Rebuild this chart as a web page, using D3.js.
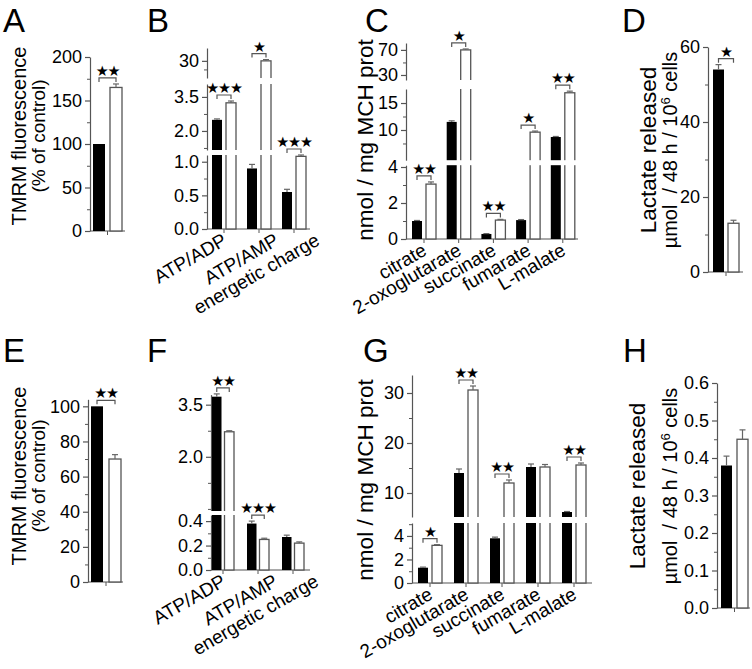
<!DOCTYPE html>
<html><head><meta charset="utf-8">
<script src="https://cdn.jsdelivr.net/npm/d3@7"></script>
<style>
body{margin:0;background:#fff}
text{font-family:"Liberation Sans",Arial,Helvetica,sans-serif;fill:#000}
</style>
</head><body>
<svg id="c" width="752" height="669" xmlns="http://www.w3.org/2000/svg"></svg>
<script>
// ---------------- DATA ----------------
// A: TMRM fluorescence (% of control), up
const tmrmUp = [100, 165];
const tmrmUpErr = [0, 4];
const tmrmUpSig = ["**"];
// B: energy ratios, up
const energyCats = ["ATP/ADP", "ATP/AMP", "energetic charge"];
const energyUpCtrl = [2.49, 0.9, 0.55];
const energyUpCtrlErr = [0.04, 0.06, 0.04];
const energyUpTreat = [3.24, 30, 1.08];
const energyUpTreatErr = [0.08, 0.15, 0.02];
const energyUpSig = ["***", "*", "***"];
// C: metabolites, up
const metabCats = ["citrate", "2-oxoglutarate", "succinate", "fumarate", "L-malate"];
const metabUpCtrl = [1.0, 11.5, 0.28, 1.05, 8.7];
const metabUpCtrlErr = [0.03, 0.2, 0.02, 0.03, 0.1];
const metabUpTreat = [3.05, 70, 1.05, 9.6, 16.9];
const metabUpTreatErr = [0.12, 1.5, 0.04, 0.2, 0.3];
const metabUpSig = ["**", "*", "**", "*", "**"];
// D: lactate released, up
const lactateUp = [54, 13];
const lactateUpErr = [1.3, 0.8];
const lactateUpSig = ["*"];
// E: TMRM, down
const tmrmDown = [100, 70];
const tmrmDownErr = [0, 2.5];
const tmrmDownSig = ["**"];
// F: energy ratios, down
const energyDownCtrl = [3.73, 0.38, 0.27];
const energyDownCtrlErr = [0.08, 0.02, 0.015];
const energyDownTreat = [2.72, 0.25, 0.22];
const energyDownTreatErr = [0.03, 0.01, 0.01];
const energyDownSig = ["**", "***", ""];
// G: metabolites, down
const metabDownCtrl = [1.3, 14, 3.8, 15.2, 6.2];
const metabDownCtrlErr = [0.05, 0.8, 0.1, 0.6, 0.1];
const metabDownTreat = [3.2, 30.6, 12, 15.2, 15.6];
const metabDownTreatErr = [0.06, 0.8, 0.6, 0.5, 0.4];
const metabDownSig = ["*", "**", "**", "", "**"];
// H: lactate released, down
const lactateDown = [0.38, 0.45];
const lactateDownErr = [0.025, 0.025];
const lactateDownSig = [""];

// tick values
const ticksA = [0, 50, 100, 150, 200], minorA = [25, 75, 125, 175];
const ticksB = [[0, 0.5, 1.0], [2.0, 3.5], [30]], minorB = [[0.25, 0.75], [1.25, 2.75], [29]];
const ticksC = [[0, 2, 4], [10, 15], [30, 70]], minorC = [[1, 3], [7.5, 12.5], [50]];
const ticksD = [0, 20, 40, 60], minorD = [10, 30, 50];
const ticksE = [0, 20, 40, 60, 80, 100], minorE = [10, 30, 50, 70, 90];
const ticksF = [[0.0, 0.2, 0.4], [2.0, 3.5]], minorF = [[0.1, 0.3], [0.5, 1.25, 2.75]];
const ticksG = [[0, 2, 4], [10, 20, 30]], minorG = [[1, 3, 5], [15, 25]];
const ticksH = [0, 0.1, 0.2, 0.3, 0.4, 0.5, 0.6], minorH = [0.05, 0.15, 0.25, 0.35, 0.45, 0.55];

// ---------------- DRAWING ----------------
const svg = d3.select("#c");
const AX = "#555";

function makeY(segs) {
  const scales = segs.map(s => d3.scaleLinear().domain(s.domain).range(s.range));
  const f = v => {
    for (let i = segs.length - 1; i >= 0; i--) if (v >= segs[i].domain[0]) return scales[i](v);
    return scales[0](v);
  };
  f.scales = scales;
  return f;
}

function panel(p) {
  const g = svg.append("g");
  const Y = makeY(p.segs);
  const base = p.segs[0].range[0];
  p.segs.forEach((s, i) => {
    const fmt = s.fmt ? d3.format(s.fmt) : (p.fmt ? d3.format(p.fmt) : d3.format("d"));
    const ax = g.append("g").attr("transform", `translate(${p.axisX},0)`)
      .call(d3.axisLeft(Y.scales[i]).tickValues(s.ticks).tickFormat(fmt)
        .tickSize(5).tickSizeOuter(0).tickPadding(3));
    ax.select(".domain").attr("stroke", AX).attr("stroke-width", 1.2);
    ax.selectAll(".tick line").attr("stroke", AX).attr("stroke-width", 1.2);
    ax.selectAll(".tick text").attr("font-size", 18).attr("font-family", null).style("fill", "#000");
    const mn = g.append("g").attr("transform", `translate(${p.axisX},0)`)
      .call(d3.axisLeft(Y.scales[i]).tickValues(s.minor).tickFormat("").tickSize(3).tickSizeOuter(0));
    mn.select(".domain").remove();
    mn.selectAll(".tick line").attr("stroke", AX).attr("stroke-width", 1);
  });
  const n = p.cats.length;
  const xb = d3.scaleBand().domain(p.cats).range([p.x0, p.x0 + n * p.step]);
  const blackX = c => xb(c);
  const whiteX = c => xb(c) + p.bw + p.gap;
  const centerX = c => xb(c) + p.bw + p.gap / 2;
  g.append("line").attr("x1", p.axisX).attr("x2", p.xEnd).attr("y1", base).attr("y2", base)
    .attr("stroke", AX).attr("stroke-width", 1.2);
  g.selectAll(".xt").data(p.cats).join("line")
    .attr("x1", centerX).attr("x2", centerX).attr("y1", base).attr("y2", base + 4)
    .attr("stroke", AX).attr("stroke-width", 1);
  const drawBar = (vals, errs, xf, black) => {
    p.cats.forEach((c, i) => {
      const v = vals[i], x = xf(c), y = Y(v);
      g.append("rect").attr("x", x).attr("y", y).attr("width", p.bw).attr("height", base - y)
        .attr("fill", black ? "#000" : "#fff")
        .attr("stroke", black ? "none" : "#555").attr("stroke-width", 1.3);
      for (let k = 0; k < p.segs.length - 1; k++) {
        if (v > p.segs[k].domain[1]) {
          g.append("rect").attr("x", x - 2).attr("width", p.bw + 4)
            .attr("y", p.segs[k + 1].range[0]).attr("height", p.segs[k].range[1] - p.segs[k + 1].range[0])
            .attr("fill", "#fff");
        }
      }
      if (errs[i] > 0) {
        const ye = Y(v + errs[i]), cx = x + p.bw / 2;
        g.append("line").attr("x1", cx).attr("x2", cx).attr("y1", y).attr("y2", ye).attr("stroke", "#666").attr("stroke-width", 1.2);
        g.append("line").attr("x1", cx - 3).attr("x2", cx + 3).attr("y1", ye).attr("y2", ye).attr("stroke", "#666").attr("stroke-width", 1.2);
      }
    });
  };
  drawBar(p.ctrl, p.ctrlErr, blackX, true);
  drawBar(p.treat, p.treatErr, whiteX, false);
  p.cats.forEach((c, i) => {
    const s = p.sig[i];
    if (!s) return;
    const top = Math.min(Y(p.ctrl[i] + p.ctrlErr[i]), Y(p.treat[i] + p.treatErr[i]));
    const yb = top - 6;
    const x1 = blackX(c) + p.bw / 2, x2 = whiteX(c) + p.bw / 2;
    g.append("path").attr("d", `M${x1},${yb + 4}V${yb}H${x2}V${yb + 4}`)
      .attr("fill", "none").attr("stroke", "#555").attr("stroke-width", 1.2);
    g.append("text").attr("x", (x1 + x2) / 2).attr("y", yb - 2).attr("text-anchor", "middle")
      .attr("font-size", 14.5).style("font-family", "DejaVu Sans").attr("letter-spacing", -1.2)
      .text(s.replace(/\*/g, "\u2605"));
  });
  if (p.showCats) {
    p.cats.forEach((c, i) => {
      const dx = p.catDx ? p.catDx[i] : 4;
      g.append("text").attr("text-anchor", "end").attr("font-size", 19)
        .attr("transform", `translate(${centerX(c) + dx},${base + 15}) rotate(-30)`).text(c);
    });
  }
  (p.titles || []).forEach(t => {
    const tx = g.append("text").attr("text-anchor", "middle").attr("font-size", t.size)
      .attr("transform", `translate(${t.x},${t.y}) rotate(-90)`).style("white-space", "pre");
    t.parts.forEach(pt => {
      const ts = tx.append("tspan").text(pt.t);
      if (pt.sup) ts.attr("baseline-shift", "super").attr("font-size", t.size * 0.65);
    });
  });
  svg.append("text").attr("x", p.letter[1]).attr("y", p.letter[2]).attr("font-size", 33).text(p.letter[0]);
}

const one = ["pair"];
const lacTitle = (x1, x2, y) => [
  {x: x1, y: y, size: 22.5, parts: [{t: "Lactate released"}]},
  {x: x2, y: y, size: 20, parts: [{t: "µmol  / 48 h / 10"}, {t: "6", sup: true}, {t: " cells"}]}
];
const tmrmTitle = y => [
  {x: 26, y: y, size: 20, parts: [{t: "TMRM fluorescence"}]},
  {x: 45, y: y, size: 19, parts: [{t: "(% of control)"}]}
];
const metTitle = y => [{x: 373, y: y, size: 22.5, parts: [{t: "nmol / mg MCH prot"}]}];
const energyDx = [4, 21, 27];

// A
panel({letter: ["A", 3, 32], axisX: 90, xEnd: 125, cats: one, x0: 93, step: 32, bw: 12, gap: 5,
  segs: [{domain: [0, 200], range: [231, 57], ticks: ticksA, minor: minorA}],
  ctrl: [tmrmUp[0]], ctrlErr: [tmrmUpErr[0]], treat: [tmrmUp[1]], treatErr: [tmrmUpErr[1]], sig: tmrmUpSig,
  titles: tmrmTitle(136)});
// B
panel({letter: ["B", 147, 32], axisX: 207, xEnd: 310, cats: energyCats, x0: 212, step: 35, bw: 10, gap: 4,
  fmt: ".1f", catDx: energyDx,
  segs: [
    {domain: [0, 1.1], range: [229, 155], ticks: ticksB[0], minor: minorB[0]},
    {domain: [1.16, 4.07], range: [150, 84], ticks: ticksB[1], minor: minorB[1]},
    {domain: [28, 31.5], range: [78, 48], ticks: ticksB[2], minor: minorB[2], fmt: "d"}],
  ctrl: energyUpCtrl, ctrlErr: energyUpCtrlErr, treat: energyUpTreat, treatErr: energyUpTreatErr, sig: energyUpSig,
  showCats: true});
// C
panel({letter: ["C", 365, 32], axisX: 406, xEnd: 578, cats: metabCats, x0: 412, step: 34.7, bw: 10, gap: 4,
  segs: [
    {domain: [0, 4.1], range: [239, 165.2], ticks: ticksC[0], minor: minorC[0]},
    {domain: [4.4, 17.6], range: [160.2, 89], ticks: ticksC[1], minor: minorC[1]},
    {domain: [22, 81], range: [80, 43], ticks: ticksC[2], minor: minorC[2]}],
  ctrl: metabUpCtrl, ctrlErr: metabUpCtrlErr, treat: metabUpTreat, treatErr: metabUpTreatErr, sig: metabUpSig,
  showCats: true, titles: metTitle(140)});
// D
panel({letter: ["D", 622, 32], axisX: 708, xEnd: 743, cats: one, x0: 713, step: 30, bw: 11, gap: 4,
  segs: [{domain: [0, 60], range: [272, 47], ticks: ticksD, minor: minorD}],
  ctrl: [lactateUp[0]], ctrlErr: [lactateUpErr[0]], treat: [lactateUp[1]], treatErr: [lactateUpErr[1]], sig: lactateUpSig,
  titles: lacTitle(656, 677, 150)});
// E
panel({letter: ["E", 3, 362], axisX: 88, xEnd: 123, cats: one, x0: 91, step: 32, bw: 12, gap: 6,
  segs: [{domain: [0, 104], range: [582, 399.3], ticks: ticksE, minor: minorE}],
  ctrl: [tmrmDown[0]], ctrlErr: [tmrmDownErr[0]], treat: [tmrmDown[1]], treatErr: [tmrmDownErr[1]], sig: tmrmDownSig,
  titles: tmrmTitle(476)});
// F
panel({letter: ["F", 147, 362], axisX: 211, xEnd: 310, cats: energyCats, x0: 212, step: 35, bw: 9.5, gap: 3,
  fmt: ".1f", catDx: energyDx,
  segs: [
    {domain: [0, 0.45], range: [570, 515], ticks: ticksF[0], minor: minorF[0]},
    {domain: [0.44, 3.79], range: [511, 394.6], ticks: ticksF[1], minor: minorF[1]}],
  ctrl: energyDownCtrl, ctrlErr: energyDownCtrlErr, treat: energyDownTreat, treatErr: energyDownTreatErr, sig: energyDownSig,
  showCats: true});
// G
panel({letter: ["G", 363, 362], axisX: 412, xEnd: 592, cats: metabCats, x0: 418, step: 36, bw: 10, gap: 4,
  segs: [
    {domain: [0, 5.1], range: [583, 523], ticks: ticksG[0], minor: minorG[0]},
    {domain: [5.2, 33.6], range: [517, 375], ticks: ticksG[1], minor: minorG[1]}],
  ctrl: metabDownCtrl, ctrlErr: metabDownCtrlErr, treat: metabDownTreat, treatErr: metabDownTreatErr, sig: metabDownSig,
  showCats: true, titles: metTitle(480)});
// H
panel({letter: ["H", 623, 362], axisX: 717, xEnd: 750, cats: one, x0: 721, step: 30, bw: 11, gap: 5,
  fmt: ".1f",
  segs: [{domain: [0, 0.6], range: [608, 383], ticks: ticksH, minor: minorH}],
  ctrl: [lactateDown[0]], ctrlErr: [lactateDownErr[0]], treat: [lactateDown[1]], treatErr: [lactateDownErr[1]], sig: lactateDownSig,
  titles: lacTitle(645, 677, 486)});
</script>
</body></html>
